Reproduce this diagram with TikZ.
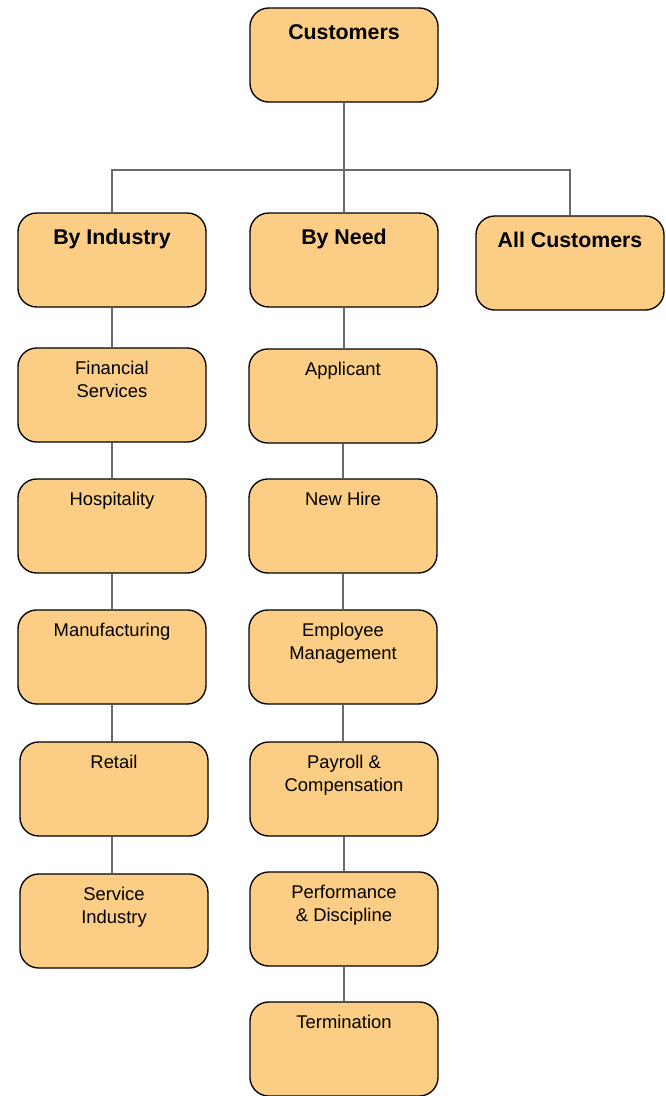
\documentclass[tikz,border=0pt]{standalone}
\usepackage{fontspec}
\setmainfont{Liberation Sans}
\definecolor{boxfill}{HTML}{FCCD84}
\definecolor{linkgray}{HTML}{6A6A6A}

\begin{document}
\begin{tikzpicture}[x=0.75pt,y=-0.75pt,
    box/.style={draw,line width=1pt,fill=boxfill,rounded corners=14pt,minimum width=141pt,minimum height=70.5pt},
    head/.style={font=\bfseries\fontsize{16}{19}\selectfont,anchor=north,inner sep=0pt,yshift=-12.5pt},
    sub/.style={font=\fontsize{13.8}{16.6}\selectfont,align=center,anchor=north,inner sep=0pt,yshift=-10.5pt},
    link/.style={draw=linkgray,line width=0.8pt}]
    \useasboundingbox (0,0) rectangle (665,1096);

    \coordinate (bar) at (344,170);

    \node (cust) at (344,55) [box] {}; \node (custt) at (cust.north) [head] {Customers};
    \node (ind) at (112,260) [box] {}; \node (indt) at (ind.north) [head] {By Industry};
    \node (need) at (344,260) [box] {}; \node (needt) at (need.north) [head] {By Need};
    \node (all) at (570,263) [box] {}; \node (allt) at (all.north) [head] {All Customers};

    \node (fin) at (112,395) [box] {}; \node (fint) at (fin.north) [sub] {Financial\\Services};
    \node (hosp) at (112,526) [box] {}; \node (hospt) at (hosp.north) [sub] {Hospitality};
    \node (manu) at (112,657) [box] {}; \node (manut) at (manu.north) [sub] {Manufacturing};
    \node (ret) at (114,789) [box] {}; \node (rett) at (ret.north) [sub] {Retail};
    \node (serv) at (114,921) [box] {}; \node (servt) at (serv.north) [sub] {Service\\Industry};

    \node (app) at (343,396) [box] {}; \node (appt) at (app.north) [sub] {Applicant};
    \node (hire) at (343,526) [box] {}; \node (hiret) at (hire.north) [sub] {New Hire};
    \node (emp) at (343,657) [box] {}; \node (empt) at (emp.north) [sub] {Employee\\Management};
    \node (pay) at (344,789) [box] {}; \node (payt) at (pay.north) [sub] {Payroll \&\\Compensation};
    \node (perf) at (344,919) [box] {}; \node (perft) at (perf.north) [sub] {Performance\\\& Discipline};
    \node (term) at (344,1049) [box] {}; \node (termt) at (term.north) [sub] {Termination};

    % top level
    \draw[link] (cust.south) -- (bar); \draw[link] (ind.north) |- (bar) -| (all.north); \draw[link] (bar) -- (need.north);

    % by industry
    \draw[link] (ind.south) -- (fin.north); \draw[link] (fin.south) -- (hosp.north); \draw[link] (hosp.south) -- (manu.north);
    \draw[link] (manu.south) -- (manu.south |- ret.north); \draw[link] (manu.south |- ret.south) -- (manu.south |- serv.north);

    % by need
    \draw[link] (need.south) -- (need.south |- app.north); \draw[link] (app.south) -- (hire.north); \draw[link] (hire.south) -- (emp.north);
    \draw[link] (emp.south) -- (emp.south |- pay.north); \draw[link] (pay.south) -- (perf.north); \draw[link] (perf.south) -- (term.north);
\end{tikzpicture}
\end{document}
